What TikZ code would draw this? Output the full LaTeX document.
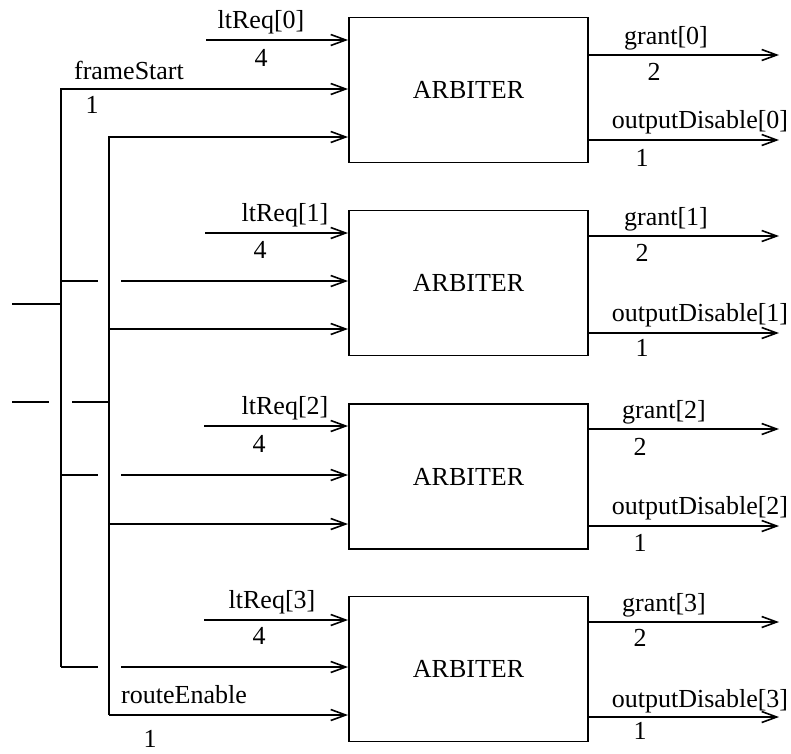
\documentclass[tikz,border=0pt]{standalone}
\usepackage{fontspec}
\setmainfont{Liberation Serif}
\usetikzlibrary{arrows.meta}
\begin{document}
\begin{tikzpicture}[x=1pt,y=-1pt,
  wire/.style={line width=1.9pt},
  sig/.style={wire,-{Straight Barb[length=15pt,width=11pt,line width=1.6pt]}},
  arb/.style={draw,line width=1.9pt,minimum width=239pt,minimum height=145pt,
    inner sep=0pt,font=\fontsize{26}{30}\selectfont},
  lbl/.style={inner sep=0pt,font=\fontsize{26}{30}\selectfont}]
\useasboundingbox (0,0) rectangle (791,753);

% the four arbiter blocks
\node[arb] (arb0) at (468.5,90)  {ARBITER};
\node[arb] (arb1) at (468.5,283) {ARBITER};
\node[arb] (arb2) at (468.5,476.5) {ARBITER};
\node[arb] (arb3) at (468.5,669) {ARBITER};

% ltReq inputs
\coordinate (lt0) at (206,40);
\coordinate (lt1) at (205,233);
\coordinate (lt2) at (204,426);
\coordinate (lt3) at (204,620);
\foreach \k in {0,...,3}
  \draw[sig] (lt\k) -- (lt\k -| arb\k.west);

% frameStart bus
\coordinate (fsTop) at (61,89);
\coordinate (fsBot) at (61,667);
\coordinate (fsIn)  at (12,304);
\draw[wire] (fsIn) -- (fsIn -| fsTop);
\draw[sig] (fsBot) -- (fsTop) -- (fsTop -| arb0.west);
\foreach \k/\yy in {1/281,2/475,3/667} {
  \coordinate (fsA\k) at (61,\yy);
  \coordinate (fsB\k) at (98,\yy);
  \coordinate (fsC\k) at (121,\yy);
  \draw[wire] (fsA\k) -- (fsB\k);
  \draw[sig] (fsC\k) -- (fsC\k -| arb\k.west);
}

% routeEnable bus
\coordinate (reTop) at (109,137);
\coordinate (reBot) at (109,715);
\coordinate (reIn)  at (12,402);
\coordinate (reGapL) at (49,402);
\coordinate (reGapR) at (72,402);
\draw[wire] (reIn) -- (reGapL);
\draw[wire] (reGapR) -- (reGapR -| reTop);
\draw[sig] (reBot) -- (reTop) -- (reTop -| arb0.west);
\draw[sig] (reBot) -- (reBot -| arb3.west);
\foreach \k/\yy in {1/329,2/524} {
  \coordinate (re\k) at (109,\yy);
  \draw[sig] (re\k) -- (re\k -| arb\k.west);
}

% outputs
\coordinate (gr0) at (779,55);
\coordinate (gr1) at (779,236);
\coordinate (gr2) at (779,429);
\coordinate (gr3) at (779,622);
\coordinate (od0) at (779,140);
\coordinate (od1) at (779,333);
\coordinate (od2) at (779,526);
\coordinate (od3) at (779,717);
\foreach \k in {0,...,3} {
  \draw[sig] (arb\k.east |- gr\k) -- (gr\k);
  \draw[sig] (arb\k.east |- od\k) -- (od\k);
}

% input labels
\node[lbl] (tlt0) at (261,22)  {ltReq[0]};
\node[lbl] (wlt0) at (261,58)  {4};
\node[lbl] (tlt1) at (285,215) {ltReq[1]};
\node[lbl] (wlt1) at (260,250) {4};
\node[lbl] (tlt2) at (285,408) {ltReq[2]};
\node[lbl] (wlt2) at (259,444) {4};
\node[lbl] (tlt3) at (272,602) {ltReq[3]};
\node[lbl] (wlt3) at (259,636) {4};
\node[lbl] (tfs) at (129,70)  {frameStart};
\node[lbl] (wfs) at (92,105)  {1};
\node[lbl] (tre) at (184,695) {routeEnable};
\node[lbl] (wre) at (150,739) {1};

% output labels
\node[lbl] (tgr0) at (666,38)  {grant[0]};
\node[lbl] (wgr0) at (654,72)  {2};
\node[lbl] (tod0) at (700,122) {outputDisable[0]};
\node[lbl] (wod0) at (642,158) {1};
\node[lbl] (tgr1) at (666,219) {grant[1]};
\node[lbl] (wgr1) at (642,253) {2};
\node[lbl] (tod1) at (700,315) {outputDisable[1]};
\node[lbl] (wod1) at (642,348) {1};
\node[lbl] (tgr2) at (664,412) {grant[2]};
\node[lbl] (wgr2) at (640,447) {2};
\node[lbl] (tod2) at (700,508) {outputDisable[2]};
\node[lbl] (wod2) at (640,543) {1};
\node[lbl] (tgr3) at (664,605) {grant[3]};
\node[lbl] (wgr3) at (640,638) {2};
\node[lbl] (tod3) at (700,701) {outputDisable[3]};
\node[lbl] (wod3) at (640,731) {1};
\end{tikzpicture}
\end{document}
